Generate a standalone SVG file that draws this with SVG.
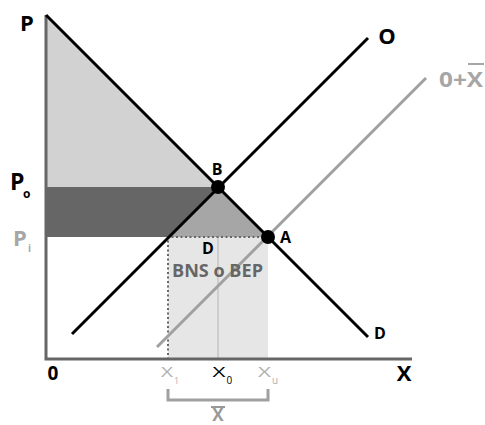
<svg xmlns="http://www.w3.org/2000/svg" width="485" height="425" viewBox="0 0 485 425">
<style>
text{font-family:"Open Sans","DejaVu Sans",sans-serif;}
.b{font-weight:bold;fill:#000;}
.g{font-weight:bold;fill:#a6a6a6;}
.thin{font-weight:normal;}
.blk{stroke:#000;stroke-width:3;fill:none;stroke-linecap:butt;}
.gry{stroke:#a0a0a0;stroke-width:3;fill:none;}
.axis{stroke:#666;stroke-width:3;fill:none;}
.dot{fill:#000;}
</style>
<rect width="485" height="425" fill="#fff"/>
<g id="areas">
<polygon points="46,15 218,187 46,187" fill="#d2d2d2"/>
<polygon points="46,187 218,187 168,237 46,237" fill="#666"/>
<polygon points="218,187 268,237 168,237" fill="#a6a6a6"/>
<rect x="168" y="237" width="100" height="122" fill="#e6e6e6"/>
<line x1="218" y1="237" x2="218" y2="359" stroke="#cdcdcd" stroke-width="2"/>
<polyline points="268,237 168,237 168,359" fill="none" stroke="#666" stroke-width="2" stroke-dasharray="2,2.5"/>
</g>
<g id="axes">
<polyline class="axis" points="46,15 46,359 412,359"/>
</g>
<g id="connectors">
<line class="gry" x1="157" y1="347" x2="426" y2="78"/>
<line class="blk" x1="72" y1="334" x2="368" y2="38"/>
<line class="blk" x1="46" y1="15" x2="368" y2="337"/>
<polyline points="168,389 168,400 268,400 268,389" fill="none" stroke="#a0a0a0" stroke-width="3"/>
</g>
<g id="B"><circle class="dot" cx="218" cy="187" r="7"/><text class="b" x="217" y="175" font-size="16" text-anchor="middle">B</text></g>
<g id="A"><circle class="dot" cx="268" cy="237" r="7"/><text class="b" x="280" y="243" font-size="16">A</text></g>
<g id="labels">
<text class="b" x="27" y="31" font-size="22" text-anchor="middle">P</text>
<text class="b" x="387" y="44" font-size="22" text-anchor="middle">O</text>
<g id="oxbar"><text class="g" x="439" y="87" font-size="22" textLength="44" lengthAdjust="spacingAndGlyphs">0+X</text><line x1="468" y1="64" x2="484" y2="64" stroke="#a6a6a6" stroke-width="2"/></g>
<text class="b" x="10" y="190" font-size="23">P</text>
<text class="b" x="23" y="198" font-size="12">o</text>
<text class="g" x="13" y="246" font-size="22">P</text>
<text class="g" x="28" y="252" font-size="10">i</text>
<text class="b" x="208" y="254" font-size="16" text-anchor="middle">D</text>
<text font-weight="bold" fill="#666" x="172" y="277" font-size="17" textLength="91" lengthAdjust="spacingAndGlyphs">BNS o BEP</text>
<text class="b" x="374" y="339" font-size="16">D</text>
<text class="b" x="53" y="380" font-size="19" text-anchor="middle">0</text>
<text class="b" x="404" y="381" font-size="22" text-anchor="middle">X</text>
<text class="thin" fill="#b0b0b0" x="161" y="377" font-size="15" textLength="12" lengthAdjust="spacingAndGlyphs">X</text>
<text class="thin" fill="#b0b0b0" x="174" y="384" font-size="9">1</text>
<text class="thin" fill="#000" x="212.5" y="377" font-size="15" textLength="13" lengthAdjust="spacingAndGlyphs">X</text>
<text class="thin" fill="#000" x="226.5" y="384" font-size="10">0</text>
<text class="thin" fill="#b0b0b0" x="258" y="377" font-size="15" textLength="13" lengthAdjust="spacingAndGlyphs">X</text>
<text class="thin" fill="#b0b0b0" x="272" y="384" font-size="10">u</text>
<g id="xbar"><text font-weight="bold" fill="#999" x="218" y="421" font-size="17" text-anchor="middle">X</text><line x1="211" y1="407" x2="225" y2="407" stroke="#999" stroke-width="2"/></g>
</g>
</svg>
